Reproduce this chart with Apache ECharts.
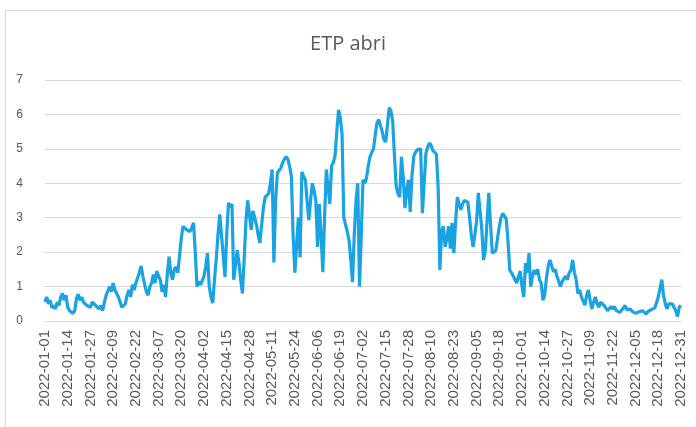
<!DOCTYPE html>
<html>
<head>
<meta charset="utf-8">
<script src="https://cdn.jsdelivr.net/npm/echarts@6/dist/echarts.min.js"></script>
<style>
html,body{margin:0;padding:0;background:#fff;}
#c{width:696px;height:427px;}
</style>
</head>
<body>
<div id="c"></div>
<script>
// Daily ETP values (mm), 2022, one array per month
const jan = [0.55,0.7,0.5,0.6,0.38,0.45,0.35,0.55,0.45,0.7,0.8,0.6,0.75,0.4,0.3,0.35,0.22,0.3,0.65,0.78,0.6,0.7,0.55,0.6,0.45,0.5,0.4,0.55,0.6,0.45,0.4];
const feb = [0.35,0.45,0.3,0.55,0.75,0.7,1.0,0.85,1.1,0.9,0.95,0.7,0.75,0.4,0.35,0.5,0.75,0.9,0.7,1.05,0.9,1.1,1.05,1.4,1.6,1.3,1.25,0.85];
const mar = [0.75,1.0,1.1,1.35,1.1,1.45,1.3,1.2,0.85,1.05,0.7,1.35,1.87,1.4,1.2,1.5,1.57,1.4,1.9,2.4,2.75,2.8,2.65,2.7,2.6,2.7,2.85,2.0,1.0,1.15,1.05];
const apr = [1.1,1.3,1.6,1.97,1.0,0.7,0.52,1.2,1.8,2.5,3.1,2.5,1.9,1.28,2.5,3.43,3.3,3.4,1.2,1.6,2.06,1.7,1.2,0.8,1.8,2.9,3.5,3.1,2.65,3.2];
const may = [3.0,2.8,2.5,2.27,2.8,3.3,3.6,3.65,3.7,4.0,4.4,1.7,3.5,4.3,4.35,4.45,4.6,4.7,4.77,4.7,4.5,4.2,2.5,1.4,2.2,3.0,1.85,4.33,4.2,4.1,3.5];
const jun = [2.93,3.5,4.0,3.8,3.5,2.15,3.4,2.5,1.42,3.0,4.4,3.9,3.4,4.5,4.6,4.8,5.5,6.13,5.9,5.45,3.0,2.8,2.6,2.35,1.8,1.13,2.5,3.5,4.0,1.0];
const jul = [2.5,4.1,4.0,4.15,4.5,4.77,4.9,5.0,5.4,5.75,5.85,5.8,5.5,5.27,5.2,5.15,6.2,6.1,5.8,4.8,3.9,3.7,3.6,4.77,4.2,3.28,3.8,4.1,3.17,4.2,4.77];
const aug = [4.9,4.97,4.95,5.0,3.13,4.0,4.87,5.05,5.17,5.1,4.95,4.9,4.85,3.9,1.48,2.6,2.75,2.15,2.4,2.75,2.1,2.85,1.97,2.9,3.6,3.4,3.23,3.4,3.5,3.45,3.45];
const sep = [3.0,2.5,2.15,2.5,2.9,3.72,3.2,2.65,1.77,2.05,2.9,3.72,2.8,1.97,2.0,2.05,2.4,2.75,3.0,3.13,3.05,2.95,2.3,1.48,1.4,1.3,1.2,1.1,1.3,1.45];
const oct = [1.0,0.7,1.68,1.4,1.97,1.0,1.3,1.48,1.35,1.5,1.2,1.1,0.6,0.75,1.25,1.6,1.77,1.6,1.43,1.5,1.3,1.25,1.0,1.15,1.1,1.3,1.2,1.4,1.48,1.77,1.4];
const nov = [1.2,0.8,0.9,0.7,0.65,0.46,0.75,0.9,0.6,0.35,0.55,0.7,0.5,0.4,0.55,0.6,0.45,0.5,0.3,0.27,0.42,0.35,0.42,0.3,0.35,0.25,0.22,0.38,0.45,0.33];
const dec = [0.3,0.35,0.28,0.33,0.22,0.2,0.27,0.22,0.3,0.25,0.2,0.27,0.25,0.33,0.28,0.38,0.4,0.7,0.95,1.2,0.75,0.5,0.35,0.5,0.45,0.5,0.4,0.3,0.13,0.4,0.45];
const yTicks = [0,1,2,3,4,5,6,7];
const titleText = 'ETP abri';

const values = [].concat(jan,feb,mar,apr,may,jun,jul,aug,sep,oct,nov,dec);
const monthLens = [jan,feb,mar,apr,may,jun,jul,aug,sep,oct,nov,dec].map(a=>a.length);
const dates = [];
monthLens.forEach((n,m)=>{
  for(let d=1; d<=n; d++){
    dates.push('2022-' + String(m+1).padStart(2,'0') + '-' + String(d).padStart(2,'0'));
  }
});

const chart = echarts.init(document.getElementById('c'), null, {renderer:'canvas'});
chart.setOption({
  animation:false,
  backgroundColor:'#ffffff',
  title:{
    text:titleText,
    left:'center',
    top:29,
    textStyle:{fontFamily:'Open Sans, Liberation Sans, sans-serif',fontSize:20,fontWeight:'normal',color:'#595959'}
  },
  graphic:[{
    type:'rect',
    shape:{x:5.5,y:10.5,width:720,height:440},
    style:{fill:'none',stroke:'#d9d9d9',lineWidth:1},
    silent:true
  }],
  grid:{left:45,right:15,top:80,bottom:106},
  xAxis:{
    type:'category',
    data:dates,
    boundaryGap:false,
    axisLine:{show:true,lineStyle:{color:'#d9d9d9'}},
    axisTick:{show:false},
    axisLabel:{
      interval:12,
      rotate:90,
      margin:9,
      fontFamily:'Liberation Sans, sans-serif',
      fontSize:15,
      color:'#595959'
    },
    splitLine:{show:false}
  },
  yAxis:{
    type:'value',
    min:yTicks[0],
    max:yTicks[yTicks.length-1],
    interval:1,
    axisLine:{show:false},
    axisTick:{show:false},
    axisLabel:{margin:22,fontFamily:'Liberation Sans, sans-serif',fontSize:12,color:'#595959'},
    splitLine:{lineStyle:{color:'#d9d9d9',width:1}}
  },
  series:[{
    type:'line',
    data:values,
    showSymbol:false,
    symbol:'none',
    lineStyle:{color:'#1aa3e3',width:3.2},
    itemStyle:{color:'#1aa3e3'}
  }]
});
</script>
</body>
</html>
